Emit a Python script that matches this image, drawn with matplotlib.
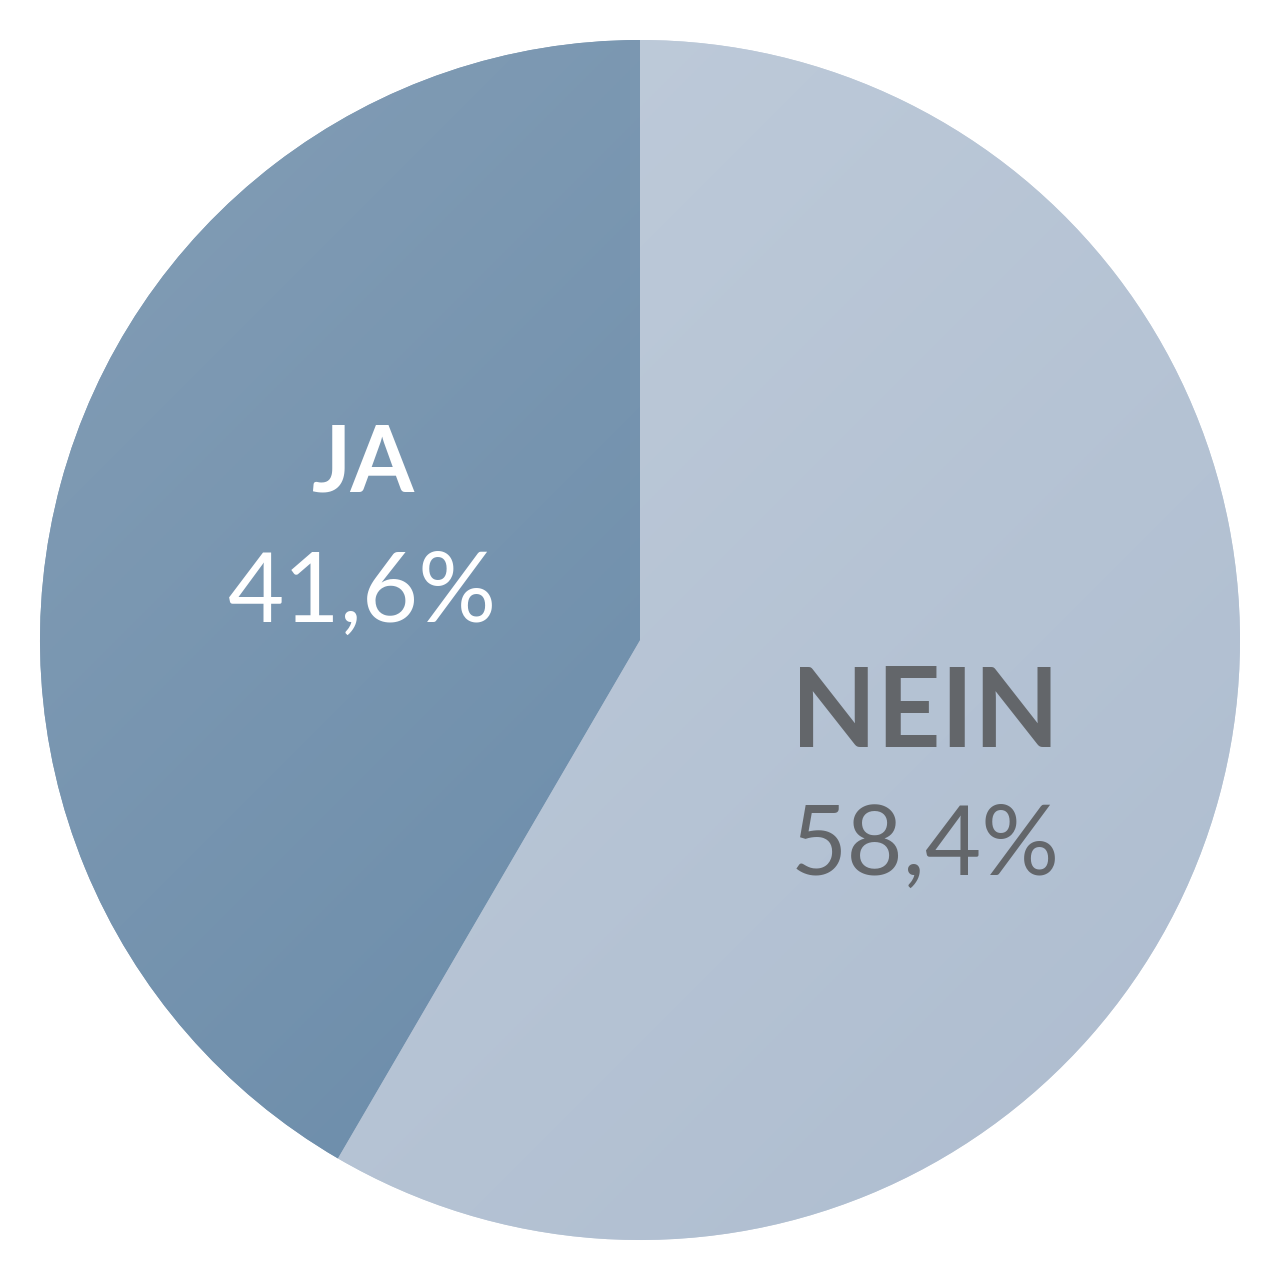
import matplotlib
matplotlib.use("Agg")
import matplotlib.pyplot as plt
import numpy as np
from matplotlib.colors import LinearSegmentedColormap

labels = ["NEIN", "JA"]
values = [58.4, 41.6]
value_texts = ["58,4%", "41,6%"]
# gradient ends (top-left, bottom-right) per slice
grad_colors = [("#c2cedc", "#adbccf"), ("#849eb6", "#6185a5")]
label_colors = ["#63666a", "#ffffff"]

fig = plt.figure(figsize=(12.8, 12.8), dpi=100)
ax = fig.add_axes([0, 0, 1, 1])

wedges, _ = ax.pie(values, startangle=90, counterclock=False, radius=1.0,
                   wedgeprops=dict(linewidth=0))

yy, xx = np.mgrid[1:-1:400j, -1:1:400j]
grad = (xx - yy + 2) / 4  # 0 top-left -> 1 bottom-right
for w, (c0, c1) in zip(wedges, grad_colors):
    w.set_facecolor(c0)
    cmap = LinearSegmentedColormap.from_list("g", [c0, c1])
    im = ax.imshow(grad, cmap=cmap, extent=(-1, 1, -1, 1), origin="upper", zorder=2)
    im.set_clip_path(w)

# label positions (data units)
pos = {"NEIN": (0.475, -0.125, -0.347, 80), "JA": (-0.463, 0.29, 0.075, 66)}
for lab, vt, col in zip(labels, value_texts, label_colors):
    x, y1, y2, fs = pos[lab]
    ax.text(x, y1, lab, color=col, fontsize=fs, fontweight="bold", family="Lato",
            ha="center", va="center", zorder=3)
    ax.text(x, y2, vt, color=col, fontsize=70, family="Lato",
            ha="center", va="center", zorder=3)

lim = 640 / 600
ax.set_xlim(-lim, lim)
ax.set_ylim(-lim, lim)
ax.set_aspect("equal")
ax.axis("off")

fig.savefig("out.png", dpi=100, facecolor="white")
